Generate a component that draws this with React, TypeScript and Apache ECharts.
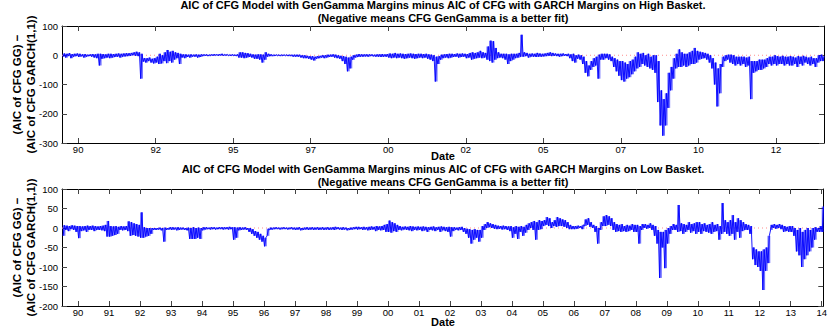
import React, { useEffect, useRef } from "react";
import * as echarts from "echarts";

// Monthly envelope (low / high), first month = Jul 1989
const START_YEAR = 1989.5;
const X_MIN = 1989.48;
const X_MAX = 2014.05;

const topTickYears = [1990, 1992.5, 1995, 1997.5, 2000, 2002.5, 2005, 2007.5, 2010, 2012.5];
const bottomTickYears = [1990, 1991, 1992, 1993, 1994, 1995, 1996, 1997, 1998, 1999, 2000, 2001, 2002, 2003, 2004, 2005, 2006, 2007, 2008, 2009, 2010, 2011, 2012, 2013, 2014];

// High Basket
const highLo = [
  -5, -8, -3, -10, -5, -3,
  -6, -4, -8, -5, -3, -5, -8, -10, -35, -12, -10, -8,
  -10, -8, -6, -5, -8, -5, -4, -3, -2, 0, -2, -3,
  -80, -22, -25, -20, -25, -28, -25, -30, -28, -20, -27, -20,
  -25, -15, -10, -30, -8, -10, -6, -8, -5, -5, -8, -6,
  -3, -2, -3, -2, -2, -1, -2, -1, -2, -1, -2, -2,
  -2, -3, -8, -8, -10, -8, -6, -8, -12, -12, -15, -25,
  -15, -5, -3, -3, -2, -2, -3, -2, -2, -3, -3, -5,
  -5, -5, -8, -10, -10, -12, -15, -18, -12, -10, -8, -10,
  -8, -6, -5, -8, -10, -12, -20, -30, -55, -45, -15, -8,
  -6, -5, -5, -4, -5, -3, -4, -5, -5, -6, -5, -5,
  -8, -10, -8, -10, -8, -10, -12, -10, -8, -10, -12, -10,
  -8, -10, -8, -12, -15, -20, -90, -30, -15, -10, -8, -10,
  -8, -6, -5, -8, -6, -5, -10, -8, -15, -12, -10, -8,
  -10, -8, -15, -20, -25, -15, -10, -8, -10, -15, -30, -20,
  -15, -10, -8, -5, -5, -3, -8, -5, -5, -6, -5, -5,
  -4, -3, -2, -3, -2, -3, -5, -3, -2, -3, -10, -20,
  -25, -12, -15, -30, -60, -72, -50, -40, -35, -80, -15, -15,
  -10, -15, -20, -40, -55, -70, -85, -90, -80, -75, -65, -55,
  -45, -40, -30, -35, -40, -45, -50, -60, -160, -240, -275, -240,
  -180, -120, -80, -45, -40, -40, -35, -40, -35, -30, -30, -25,
  -15, -12, -10, -15, -25, -45, -100, -175, -130, -40, -20, -15,
  -25, -30, -35, -30, -35, -30, -40, -35, -150, -60, -55, -50,
  -50, -45, -40, -30, -35, -30, -35, -30, -30, -35, -30, -35,
  -35, -30, -40, -30, -35, -25, -30, -35, -30, -40, -25, -20,
  -20,
];
const highHi = [
  6, 5, 7, 4, 5, 6,
  5, 3, 4, 2, 3, 4, 3, 5, 5, 4, 3, 5,
  5, 4, 5, 6, 5, 6, 7, 7, 8, 10, 12, 10,
  5, -10, -10, -8, -12, -10, -5, 5, 0, 10, 18, 12,
  15, 10, 8, 5, 3, 3, 2, 3, 2, 3, 2, 3,
  3, 3, 2, 3, 4, 3, 4, 5, 3, 3, 2, 3,
  2, 3, 10, 10, 8, 7, 5, 3, 2, 3, 3, 2,
  10, 5, 3, 2, 2, 2, 2, 2, 2, 2, 2, 2,
  2, 2, 0, 0, -2, -3, -3, -5, -3, -2, 0, 0,
  2, 2, 3, 2, 0, -2, -3, -5, -8, -5, 0, 2,
  4, 3, 3, 3, 3, 3, 2, 3, 3, 4, 3, 4,
  6, 5, 8, 5, 6, 5, 4, 5, 6, 5, 4, 5,
  5, 4, 5, 3, 2, 0, -5, -3, 2, 3, 4, 5,
  5, 4, 6, 5, 6, 5, 4, 8, 10, 8, 10, 15,
  10, 8, 30, 50, 48, 25, 10, 5, 5, 5, 3, 5,
  5, 5, 8, 70, 10, 8, 5, 6, 5, 8, 6, 5,
  6, 8, 10, 8, 6, 5, 5, 6, 4, 5, 3, 5,
  0, 2, 0, -5, -20, -35, -20, -10, -5, 2, 5, 5,
  5, 3, -5, -10, -15, -20, -20, -25, -30, -20, -15, -5,
  10, 5, 8, 0, 5, -5, 0, 0, -20, -120, -150, -130,
  -60, -40, -10, 5, 20, 10, 5, 5, 10, 15, 25, 15,
  12, 10, 8, 5, 0, -10, -25, -45, -30, -5, 0, 2,
  2, 0, -5, -5, -5, -5, -8, -5, -20, -20, -20, -15,
  -15, -15, -10, -5, -5, 0, -3, -5, -2, -5, -5, -3,
  -5, -8, -3, -5, -2, -5, -8, -5, -10, -10, 0, 2,
  -3,
];

// Low Basket
const lowLo = [
  -20, -5, -8, -3, -5, -10,
  -26, -8, -6, -10, -5, -5, -8, -5, -5, -6, -8, -22,
  -22, -20, -18, -15, -5, -6, -5, -8, -20, -18, -20, -22,
  -25, -25, -22, -20, -15, -5, -5, -4, -6, -35, -5, -4,
  -5, -4, -6, -5, -4, -5, -6, -28, -28, -28, -25, -28,
  -6, -4, -3, -4, -3, -4, -3, -3, -4, -3, -4, -3,
  -30, -25, -6, -5, -4, -5, -10, -15, -20, -25, -30, -35,
  -47, -20, -5, -4, -3, -3, -4, -3, -3, -4, -3, -4,
  -5, -4, -6, -5, -4, -5, -4, -5, -4, -5, -4, -5,
  -4, -5, -4, -5, -3, -4, -5, -4, -6, -5, -4, -3,
  -4, -3, -5, -4, -6, -5, -4, -8, -5, -6, -5, -10,
  -10, -12, -8, -10, -5, -6, -4, -5, -6, -8, -5, -6,
  -5, -8, -6, -10, -5, -6, -8, -5, -10, -6, -8, -10,
  -22, -8, -5, -6, -5, -10, -15, -25, -40, -30, -25, -35,
  -25, -5, 0, 2, 0, -2, -3, -2, -4, -3, -5, -8,
  -25, -15, -28, -10, -20, -12, -5, 0, -5, -30, -5, -3,
  5, 8, 5, 0, 5, 3, 5, 5, 3, 0, -3, -3,
  -3, -2, 0, -3, 5, 8, 3, 0, -10, -40, -5, 5,
  5, 8, 5, -5, -10, -8, -10, -8, -10, -8, -5, -10,
  -10, -40, -5, 0, -2, 0, -5, -20, -40, -128, -50, -103,
  -40, -15, -5, -5, -10, -8, -15, -10, -5, -12, -8, -15,
  -10, -15, -8, -10, -12, -15, -10, -8, -30, -15, -10, -15,
  -20, -15, -30, -10, -25, -8, -5, -5, -15, -80, -95, -100,
  -110, -159, -110, -90, -5, 0, -2, 0, -3, -10, -8, -10,
  -10, -20, -60, -70, -100, -80, -70, -60, -50, -30, -10, -10,
  -10,
];
const lowHi = [
  7, 6, 5, 7, 6, 5,
  5, 4, 5, 6, 5, 6, 5, 4, 5, 6, 8, 18,
  5, 4, 5, 3, 5, 4, 5, 17, 15, 12, 10, 8,
  40, 2, 0, 0, 0, 0, 0, 1, 0, 1, 0, 2,
  2, 1, 2, 1, 1, 0, 1, 0, 2, 0, 1, 0,
  2, 2, 1, 2, 2, 1, 2, 2, 2, 2, 3, 2,
  2, 1, 2, 1, 2, 0, 0, -3, -8, -10, -15, -20,
  -25, -2, 1, 1, 2, 1, 1, 2, 1, 1, 2, 1,
  1, 2, 0, 1, 2, 1, 2, 1, 2, 1, 2, 1,
  2, 1, 2, 3, 2, 1, 2, 1, 0, 1, 2, 3,
  3, 2, 3, 2, 3, 4, 3, 5, 4, 5, 8, 10,
  19, 15, 12, 8, 5, 3, 4, 3, 5, 4, 3, 4,
  3, 4, 3, 2, 3, 4, 2, 3, 4, 3, 2, 3,
  2, 2, 1, 2, 3, 0, -2, -3, -5, -3, -5, -5,
  5, 10, 15, 12, 10, 8, 6, 5, 6, 5, 4, 5,
  2, 5, 3, 5, 3, 8, 12, 15, 18, 15, 20, 18,
  20, 28, 25, 15, 20, 28, 25, 22, 20, 15, 8, 5,
  5, 6, 5, 8, 22, 25, 15, 8, 5, 0, 15, 30,
  33, 30, 25, 15, 10, 8, 10, 5, 8, 6, 10, 8,
  8, 5, 10, 10, 8, 12, 8, 5, -5, -10, -10, -5,
  0, 5, 10, 8, 59, 12, 10, 8, 15, 10, 12, 15,
  15, 10, 12, 8, 10, 15, 8, 10, 5, 64, 20, 15,
  20, 33, 15, 25, 20, 15, 10, 8, 5, -50, -55, -60,
  -60, -55, -50, -20, 8, 10, 8, 10, 8, 5, 3, 5,
  5, 0, -5, 0, -10, -5, 0, -5, 0, 2, 0, 5,
  55,
];

const buildLine = (lo: number[], hi: number[]) => {
  const pts: [number, number][] = [];
  lo.forEach((l, i) => {
    const t = START_YEAR + i / 12;
    pts.push([t + 0.2 / 12, l]);
    pts.push([t + 0.7 / 12, hi[i]]);
  });
  return pts;
};
const buildBand = (lo: number[], hi: number[]) =>
  lo.map((l, i) => [START_YEAR + i / 12, l, hi[i]]);

const FONT = "Arial, 'Liberation Sans', Helvetica, sans-serif";
const yearLabel = (v: number) => String(Math.floor(v + 1e-6) % 100).padStart(2, "0");

const GRID_LEFT = 62;
const GRID_W = 762;
const GRID_H = 117;
const TOP1 = 26;
const TOP2 = 189;
const BLUE = "#0000ff";

export default function App() {
  const ref = useRef<HTMLDivElement>(null);
  useEffect(() => {
    if (!ref.current) return;
    const chart = echarts.init(ref.current, undefined, { renderer: "svg" });

    const xBottom = (grid: number, ticks: number[]) => ({
      type: "value",
      gridIndex: grid,
      position: "bottom",
      min: X_MIN,
      max: X_MAX,
      axisLine: { show: true, onZero: false, lineStyle: { color: "#000", width: 1 } },
      axisTick: { show: true, inside: true, length: 5, customValues: ticks, lineStyle: { color: "#444" } },
      axisLabel: { show: true, customValues: ticks, formatter: yearLabel, fontSize: 9.5, color: "#000", fontFamily: FONT, margin: 1 },
      splitLine: { show: false },
    });
    const xTop = (grid: number, ticks: number[]) => ({
      type: "value",
      gridIndex: grid,
      position: "top",
      min: X_MIN,
      max: X_MAX,
      axisLine: { show: true, onZero: false, lineStyle: { color: "#000", width: 1 } },
      axisTick: { show: true, inside: true, length: 5, customValues: ticks, lineStyle: { color: "#444" } },
      axisLabel: { show: false },
      splitLine: { show: false },
    });
    const yLeft = (grid: number, min: number, max: number, interval: number) => ({
      type: "value",
      gridIndex: grid,
      position: "left",
      min,
      max,
      interval,
      axisLine: { show: true, onZero: false, lineStyle: { color: "#000", width: 1 } },
      axisTick: { show: true, inside: true, length: 5, lineStyle: { color: "#444" } },
      axisLabel: { show: true, fontSize: 9.5, color: "#000", fontFamily: FONT, margin: 4 },
      splitLine: { show: false },
    });
    const yRight = (grid: number, min: number, max: number, interval: number) => ({
      type: "value",
      gridIndex: grid,
      position: "right",
      min,
      max,
      interval,
      axisLine: { show: true, onZero: false, lineStyle: { color: "#000", width: 1 } },
      axisTick: { show: true, inside: true, length: 5, lineStyle: { color: "#444" } },
      axisLabel: { show: false },
      splitLine: { show: false },
    });

    const zeroSeries = (xi: number, yi: number) => ({
      type: "line",
      xAxisIndex: xi,
      yAxisIndex: yi,
      data: [[X_MIN, 0], [X_MAX, 0]],
      symbol: "none",
      silent: true,
      z: 1,
      lineStyle: { color: "#ff8c8c", type: [1, 3], width: 1 },
    });

    const bandSeries = (xi: number, yi: number, lo: number[], hi: number[]) => ({
      type: "custom",
      xAxisIndex: xi,
      yAxisIndex: yi,
      clip: true,
      z: 2,
      silent: true,
      data: buildBand(lo, hi),
      encode: { x: 0, y: [1, 2] },
      renderItem: (_p: any, api: any) => {
        const a = api.coord([api.value(0), api.value(1)]);
        const b = api.coord([api.value(0), api.value(2)]);
        const w = api.size([1 / 12, 0])[0];
        return {
          type: "rect",
          shape: { x: a[0], y: b[1], width: w + 0.2, height: Math.max(0.6, a[1] - b[1]) },
          style: { fill: BLUE, opacity: 0.55 },
        };
      },
    });

    const lineSeries = (xi: number, yi: number, lo: number[], hi: number[]) => ({
      type: "line",
      xAxisIndex: xi,
      yAxisIndex: yi,
      data: buildLine(lo, hi),
      showSymbol: false,
      symbol: "none",
      silent: true,
      z: 3,
      lineStyle: { color: BLUE, width: 0.9 },
    });

    const boldText = (text: string, y: number, size: number) => ({
      type: "text",
      x: GRID_LEFT + GRID_W / 2,
      y,
      style: {
        text,
        fontSize: size,
        fontWeight: "bold",
        fontFamily: FONT,
        fill: "#000",
        textAlign: "center",
        textVerticalAlign: "middle",
      },
    });
    const yLabel = (cy: number) => ({
      type: "text",
      x: 24,
      y: cy,
      rotation: Math.PI / 2,
      style: {
        text: "(AIC of CFG GG) \u2212\n(AIC of CFG GARCH(1,1))",
        fontSize: 11.5,
        fontWeight: "bold",
        fontFamily: FONT,
        fill: "#000",
        textAlign: "center",
        textVerticalAlign: "middle",
        lineHeight: 14,
      },
    });

    chart.setOption({
      animation: false,
      backgroundColor: "#fff",
      grid: [
        { left: GRID_LEFT, top: TOP1, width: GRID_W, height: GRID_H },
        { left: GRID_LEFT, top: TOP2, width: GRID_W, height: GRID_H },
      ],
      xAxis: [xBottom(0, topTickYears), xTop(0, topTickYears), xBottom(1, bottomTickYears), xTop(1, bottomTickYears)],
      yAxis: [yLeft(0, -300, 100, 100), yRight(0, -300, 100, 100), yLeft(1, -200, 100, 50), yRight(1, -200, 100, 50)],
      series: [
        zeroSeries(0, 0),
        bandSeries(0, 0, highLo, highHi),
        lineSeries(0, 0, highLo, highHi),
        zeroSeries(2, 2),
        bandSeries(2, 2, lowLo, lowHi),
        lineSeries(2, 2, lowLo, lowHi),
      ],
      graphic: [
        boldText("AIC of CFG Model with GenGamma Margins minus AIC of CFG with GARCH Margins on High Basket.", 5, 11),
        boldText("(Negative means CFG GenGamma is a better fit)", 18, 11),
        boldText("AIC of CFG Model with GenGamma Margins minus AIC of CFG with GARCH Margins on Low Basket.", 169, 11),
        boldText("(Negative means CFG GenGamma is a better fit)", 182, 11),
        boldText("Date", 156, 11),
        boldText("Date", 322, 11),
        yLabel(TOP1 + GRID_H / 2),
        yLabel(TOP2 + GRID_H / 2),
      ],
    });
    return () => chart.dispose();
  }, []);
  return <div ref={ref} style={{ position: "fixed", left: 0, top: 0, width: 830, height: 327, background: "#fff" }} />;
}
